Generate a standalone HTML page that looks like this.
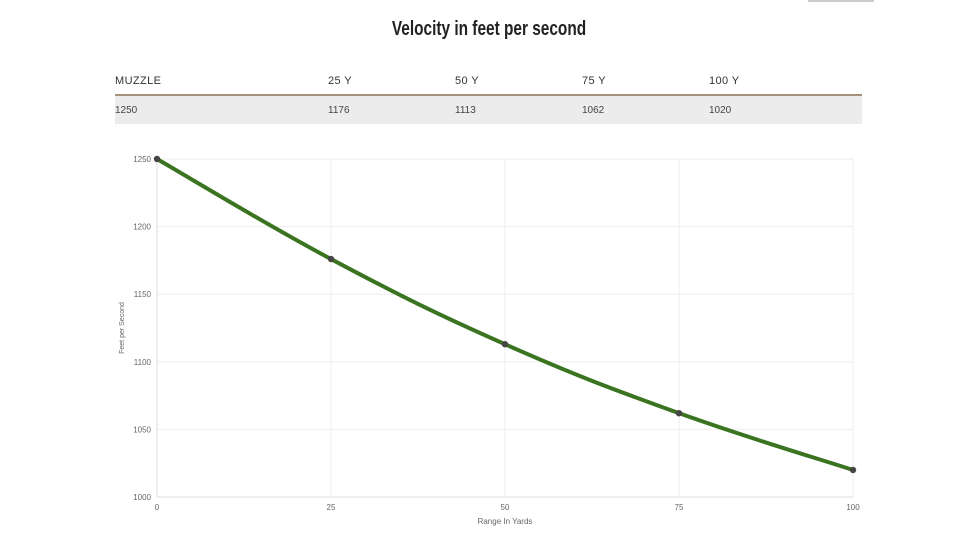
<!DOCTYPE html>
<html><head><meta charset="utf-8"><style>
body{margin:0;width:978px;height:550px;background:#fff;font-family:"Liberation Sans",sans-serif;position:relative;overflow:hidden}
#title{position:absolute;top:18px;left:0;width:978px;text-align:center;font-weight:bold;font-size:20px;color:#222;transform:scaleX(0.77);transform-origin:489px 0}
#tbl{position:absolute;left:115px;top:70px;width:747px}
.hd,.rw{position:relative;height:24px}
.hd{border-bottom:2px solid #a39279;font-size:11px;letter-spacing:0.4px;color:#333}
.rw{background:#ececec;height:28px;font-size:10px;color:#444}
.hd span,.rw span{position:absolute;top:5px}
.rw span{top:9px}
#corner{position:absolute;left:808px;top:0;width:66px;height:2px;background:#ccc}
</style></head><body>
<div id="corner"></div>
<div id="title">Velocity in feet per second</div>
<div id="tbl">
<div class="hd"><span style="left:0">MUZZLE</span><span style="left:213px">25 Y</span><span style="left:340px">50 Y</span><span style="left:467px">75 Y</span><span style="left:594px">100 Y</span></div>
<div class="rw"><span style="left:0">1250</span><span style="left:213px">1176</span><span style="left:340px">1113</span><span style="left:467px">1062</span><span style="left:594px">1020</span></div>
</div>
<svg id="chart" width="978" height="550" style="position:absolute;left:0;top:0"></svg>
<script>
const xCats=[0,25,50,75,100];
const yVals=[1250,1176,1113,1062,1020];
const yTicks=[1000,1050,1100,1150,1200,1250];
const X0=157,X1=853,Y0=497,Y1=159;
const xs=v=>X0+(v-0)/100*(X1-X0);
const ys=v=>Y0-(v-1000)/250*(Y0-Y1);
const svg=document.getElementById('chart');
const NS='http://www.w3.org/2000/svg';
function mk(t,a){const e=document.createElementNS(NS,t);for(const k in a)e.setAttribute(k,a[k]);svg.appendChild(e);return e;}
yTicks.forEach(t=>{
 const l=mk('line',{x1:X0,x2:X1,y1:ys(t),y2:ys(t),stroke:t===1000?'#ddd':'#eee'});
 
 
 const tx=mk('text',{x:X0-6,y:ys(t)+3,'text-anchor':'end','font-size':8,fill:'#666','font-family':'Liberation Sans, sans-serif'});
 tx.textContent=t;
 
 
});
xCats.forEach(c=>{
 const l=mk('line',{x1:xs(c),x2:xs(c),y1:Y1,y2:Y0,stroke:c===0?'#ddd':'#eee'});
 
 
 const tx=mk('text',{x:xs(c),y:Y0+13,'text-anchor':'middle','font-size':8,fill:'#666','font-family':'Liberation Sans, sans-serif'});
 tx.textContent=c;
 
 
});
const xt=mk('text',{x:(X0+X1)/2,y:524,'text-anchor':'middle','font-size':8,fill:'#666','font-family':'Liberation Sans, sans-serif'});
xt.textContent='Range In Yards';


const yt=mk('text',{x:0,y:0,'text-anchor':'middle','font-size':7,fill:'#666','font-family':'Liberation Sans, sans-serif',transform:`translate(124,${(Y0+Y1)/2}) rotate(-90)`});
yt.textContent='Feet per Second';


const P=xCats.map((c,i)=>[xs(c),ys(yVals[i])]);
let d=`M${P[0][0]},${P[0][1]}`;
for(let i=0;i<P.length-1;i++){
 const p0=P[i-1]||P[i],p1=P[i],p2=P[i+1],p3=P[i+2]||p2,k=0.2;
 d+=` C${p1[0]+(p2[0]-p0[0])*k},${p1[1]+(p2[1]-p0[1])*k} ${p2[0]-(p3[0]-p1[0])*k},${p2[1]-(p3[1]-p1[1])*k} ${p2[0]},${p2[1]}`;
}
const ln=mk('path',{d:d,fill:'none',stroke:'#3b7421','stroke-width':4});


P.forEach(p=>{
 const c=mk('circle',{cx:p[0],cy:p[1],r:3.2,fill:'#444'});
 
 
});
</script>
</body></html>
